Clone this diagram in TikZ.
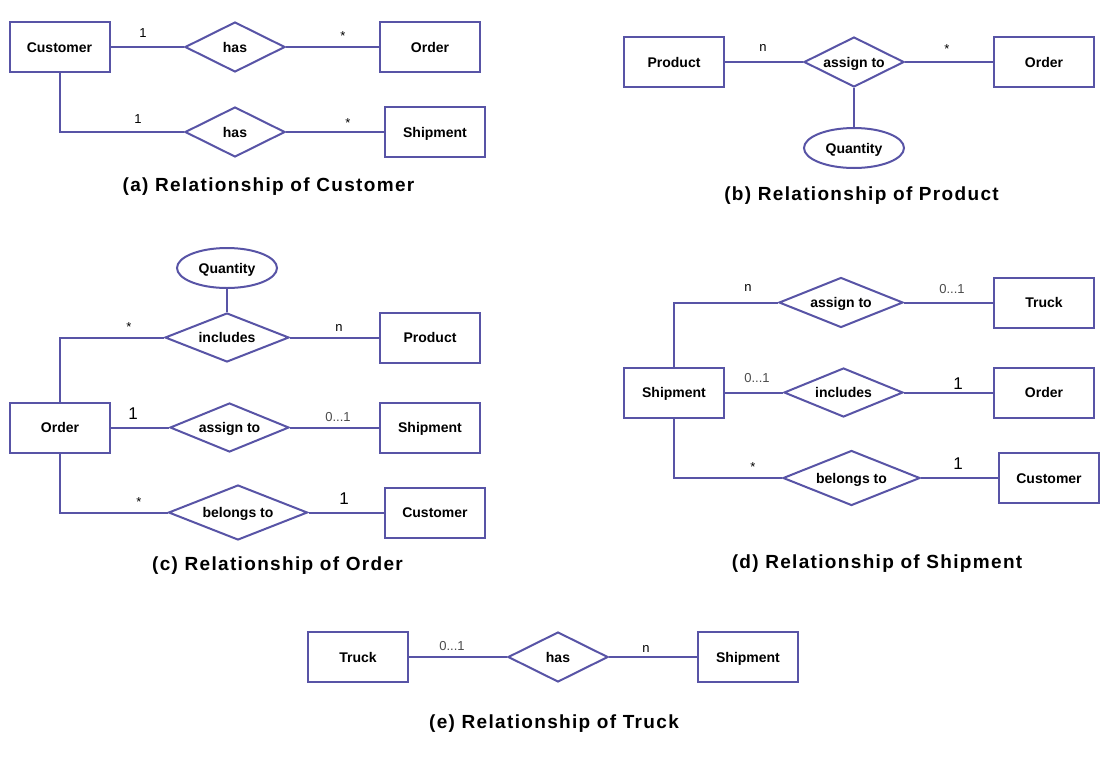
\documentclass[tikz,border=0pt]{standalone}
\usepackage{fontspec}
\setmainfont{Liberation Sans}
\usetikzlibrary{shapes.geometric}
\definecolor{erline}{RGB}{88,84,166}
\begin{document}
\begin{tikzpicture}[x=1pt,y=-1pt,
  lbl/.style={font=\fontsize{14}{16}\selectfont\bfseries,text height=10pt,text depth=0pt},
  ent/.style={lbl,draw=erline,line width=2pt,minimum width=100pt,minimum height=50pt,inner sep=0pt},
  rel/.style={lbl,draw=erline,line width=2pt,diamond,aspect=2,inner sep=0pt},
  attr/.style={lbl,draw=erline,line width=2pt,ellipse,minimum width=100pt,minimum height=40pt,inner sep=0pt},
  conn/.style={draw=erline,line width=2pt},
  mult/.style={font=\fontsize{13}{15}\selectfont,inner sep=0pt,anchor=base},
  multbig/.style={font=\fontsize{17}{19}\selectfont,inner sep=0pt,anchor=base},
  multg/.style={mult,text=black!70},
  ttl/.style={font=\fontsize{19}{22}\selectfont\bfseries\addfontfeature{LetterSpace=7},inner sep=0pt,anchor=base}
]
\useasboundingbox[fill=white] (0,0) rectangle (1111,758);

% (a)
\node[ent] (acust) at (59.5,47) {Customer};
\node[rel,minimum width=100pt,minimum height=50pt] (ahas1) at (235,47) {has};
\node[ent] (aord) at (430,47) {Order};
\node[rel,minimum width=100pt,minimum height=50pt] (ahas2) at (235,132) {has};
\node[ent] (aship) at (435,132) {Shipment};
\draw[conn] (acust.east) -- (ahas1.west);
\draw[conn] (ahas1.east) -- (aord.west);
\draw[conn] (acust.south) |- (ahas2.west);
\draw[conn] (ahas2.east) -- (aship.west);
\node[mult] (am1) at (143,37) {1};
\node[mult] (am2) at (343,40) {*};
\node[mult] (am3) at (138,123) {1};
\node[mult] (am4) at (348,127) {*};
\node[ttl] (at) at (268.5,191) {(a) Relationship of Customer};

% (b)
\node[ent] (bprod) at (674,62) {Product};
\node[rel,minimum width=100pt,minimum height=50pt] (bas) at (854,62) {assign to};
\node[ent] (bord) at (1044,62) {Order};
\node[attr] (bqty) at (854,148) {Quantity};
\draw[conn] (bprod.east) -- (bas.west);
\draw[conn] (bas.east) -- (bord.west);
\draw[conn] (bas.south) -- (bqty.north);
\node[mult] (bm1) at (763,51) {n};
\node[mult] (bm2) at (947,53) {*};
\node[ttl] (bt) at (861.5,200) {(b) Relationship of Product};

% (c)
\node[attr] (cqty) at (227,268) {Quantity};
\node[rel,minimum width=124pt,minimum height=49pt] (cinc) at (227,337.5) {includes};
\node[ent] (cprod) at (430,337.5) {Product};
\node[ent] (cord) at (60,427.5) {Order};
\node[rel,minimum width=119pt,minimum height=49pt] (cas) at (229.5,427.5) {assign to};
\node[ent] (cship) at (430,427.5) {Shipment};
\node[rel,minimum width=139pt,minimum height=55pt] (cbel) at (238,512.5) {belongs to};
\node[ent] (ccust) at (435,512.5) {Customer};
\draw[conn] (cqty.south) -- (cinc.north);
\draw[conn] (cord.north) |- (cinc.west);
\draw[conn] (cinc.east) -- (cprod.west);
\draw[conn] (cord.east) -- (cas.west);
\draw[conn] (cas.east) -- (cship.west);
\draw[conn] (cord.south) |- (cbel.west);
\draw[conn] (cbel.east) -- (ccust.west);
\node[mult] (cm1) at (129,331) {*};
\node[mult] (cm2) at (339,331) {n};
\node[multbig] (cm3) at (133,419) {1};
\node[multg] (cm4) at (338,421) {0...1};
\node[mult] (cm5) at (139,506) {*};
\node[multbig] (cm6) at (344,504) {1};
\node[ttl] (ct) at (277.5,570) {(c) Relationship of Order};

% (d)
\node[ent] (dship) at (674,392.5) {Shipment};
\node[rel,minimum width=124pt,minimum height=50pt] (das) at (841,302.5) {assign to};
\node[ent] (dtruck) at (1044,302.5) {Truck};
\node[rel,minimum width=119pt,minimum height=49pt] (dinc) at (843.5,392.5) {includes};
\node[ent] (dord) at (1044,392.5) {Order};
\node[rel,minimum width=137pt,minimum height=55pt] (dbel) at (851.5,478) {belongs to};
\node[ent] (dcust) at (1049,478) {Customer};
\draw[conn] (dship.north) |- (das.west);
\draw[conn] (das.east) -- (dtruck.west);
\draw[conn] (dship.east) -- (dinc.west);
\draw[conn] (dinc.east) -- (dord.west);
\draw[conn] (dship.south) |- (dbel.west);
\draw[conn] (dbel.east) -- (dcust.west);
\node[mult] (dm1) at (748,291) {n};
\node[multg] (dm2) at (952,293) {0...1};
\node[multg] (dm3) at (757,382) {0...1};
\node[multbig] (dm4) at (958,389) {1};
\node[mult] (dm5) at (753,471) {*};
\node[multbig] (dm6) at (958,469) {1};
\node[ttl] (dt) at (877,568) {(d) Relationship of Shipment};

% (e)
\node[ent] (etruck) at (358,657) {Truck};
\node[rel,minimum width=100pt,minimum height=50pt] (ehas) at (558,657) {has};
\node[ent] (eship) at (748,657) {Shipment};
\draw[conn] (etruck.east) -- (ehas.west);
\draw[conn] (ehas.east) -- (eship.west);
\node[multg] (em1) at (452,650) {0...1};
\node[mult] (em2) at (646,652) {n};
\node[ttl] (et) at (554,728) {(e) Relationship of Truck};
\end{tikzpicture}
\end{document}
